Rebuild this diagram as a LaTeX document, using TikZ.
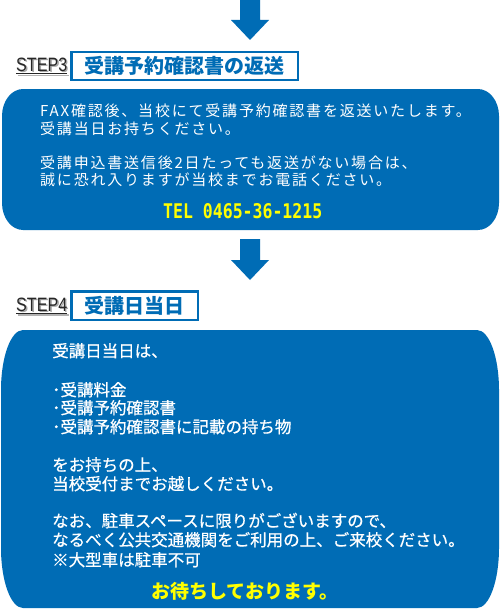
\documentclass[tikz,border=0pt]{standalone}
\usepackage{fontspec}
\usepackage{graphicx}
\setmainfont{Noto Sans CJK JP}
\newfontfamily\jpspaced{Noto Sans CJK JP}[LetterSpace=12]
\newfontfamily\jpmed{Noto Sans CJK JP}[FakeBold=0.6]
\newfontfamily\monob{DejaVu Sans Mono}
\newfontfamily\stepfont{Liberation Sans}
\definecolor{boxblue}{RGB}{0,108,181}
\definecolor{telyellow}{RGB}{255,255,0}
\newcommand{\blobbox}[6]{%
  \fill[boxblue] ({#1+#5},#2) -- ({#3-#5},#2)
    .. controls ({#3-0.4477*#5},#2) and (#3,{#2+0.4477*#6}) .. (#3,{#2+#6})
    -- (#3,{#4-#6})
    .. controls (#3,{#4-0.4477*#6}) and ({#3-0.4477*#5},#4) .. ({#3-#5},#4)
    -- ({#1+#5},#4)
    .. controls ({#1+0.4477*#5},#4) and (#1,{#4-0.4477*#6}) .. (#1,{#4-#6})
    -- (#1,{#2+#6})
    .. controls (#1,{#2+0.4477*#6}) and ({#1+0.4477*#5},#2) .. ({#1+#5},#2)
    -- cycle;}
\newcommand{\downarrowshape}[2]{% top y, head base y
  \fill[boxblue] (240,#1) -- (260,#1) -- (260,#2) -- (269,#2) -- (250,{#2+20}) -- (231,#2) -- (240,#2) -- cycle;}
\tikzset{
  titlebox/.style={draw=boxblue, line width=2.5pt, fill=white, inner sep=0pt,
    text=boxblue, font=\bfseries\fontsize{20}{24}\selectfont},
  lineA/.style={anchor=base west, inner sep=0pt, text=white, font=\jpspaced\fontsize{15}{17}\selectfont},
  lineB/.style={anchor=base west, inner sep=0pt, text=white, font=\jpmed\fontsize{16.5}{19}\selectfont},
  steplabel/.style={anchor=base west, inner sep=0pt, text=black!85},
  stepshadow/.style={anchor=base west, inner sep=0pt, text=black!35},
}
\begin{document}
\begin{tikzpicture}[x=1pt,y=-1pt]
\useasboundingbox (0,0) rectangle (500,610);
\fill[white] (0,0) rectangle (500,610);

% arrow 1
\downarrowshape{0}{20}

% STEP3 label
\node[stepshadow] (s3sh) at (17.5,73) {\resizebox{51pt}{13.5pt}{\stepfont STEP3}};
\draw[black!30, line width=1.2pt] (17.5,75.5) -- (68.5,75.5);
\node[steplabel] (s3) at (16,71.5) {\resizebox{51pt}{13.5pt}{\stepfont STEP3}};
\draw[black!85, line width=1pt] (16,73.8) -- (67,73.8);
\node[titlebox, minimum width=226.5pt, minimum height=27.5pt] (t3) at (184.5,66) {受講予約確認書の返送};

% box 1
\blobbox{2}{89}{499}{230}{21}{27}
\node[lineA] (a1) at (40,116) {FAX確認後、当校にて受講予約確認書を返送いたします。};
\node[lineA] (a2) at (40,134) {受講当日お持ちください。};
\node[lineA] (a3) at (40,168) {受講申込書送信後2日たっても返送がない場合は、};
\node[lineA] (a4) at (40,185) {誠に恐れ入りますが当校までお電話ください。};
\node[anchor=base west, inner sep=0pt, text=telyellow] (tel) at (163,218)
  {\resizebox{159pt}{15pt}{\monob\bfseries TEL 0465-36-1215}};

% arrow 2
\downarrowshape{239}{260}

% STEP4 label
\node[stepshadow] (s4sh) at (17.5,312.5) {\resizebox{51pt}{13.5pt}{\stepfont STEP4}};
\draw[black!30, line width=1.2pt] (17.5,315) -- (68.5,315);
\node[steplabel] (s4) at (16,311) {\resizebox{51pt}{13.5pt}{\stepfont STEP4}};
\draw[black!85, line width=1pt] (16,313.3) -- (67,313.3);
\node[titlebox, minimum width=126.5pt, minimum height=28.5pt] (t4) at (134.5,305.5) {受講日当日};

% box 2
\blobbox{1}{330}{499}{608}{22}{60}
\node[lineB] (b1) at (52,357) {受講日当日は、};
\node[lineB] (b2) at (52,396) {･受講料金};
\node[lineB] (b3) at (52,414) {･受講予約確認書};
\node[lineB] (b4) at (52,433) {･受講予約確認書に記載の持ち物};
\node[lineB] (b5) at (52,471) {をお持ちの上、};
\node[lineB] (b6) at (52,490) {当校受付までお越しください。};
\node[lineB] (b7) at (52,527) {なお、駐車スペースに限りがございますので、};
\node[lineB] (b8) at (52,546) {なるべく公共交通機関をご利用の上、ご来校ください。};
\node[lineB] (b9) at (52,566) {※大型車は駐車不可};
\node[anchor=base, inner sep=0pt, text=telyellow, font=\bfseries\fontsize{19}{22}\selectfont] (wait) at (245,598) {お待ちしております。};
\end{tikzpicture}
\end{document}
